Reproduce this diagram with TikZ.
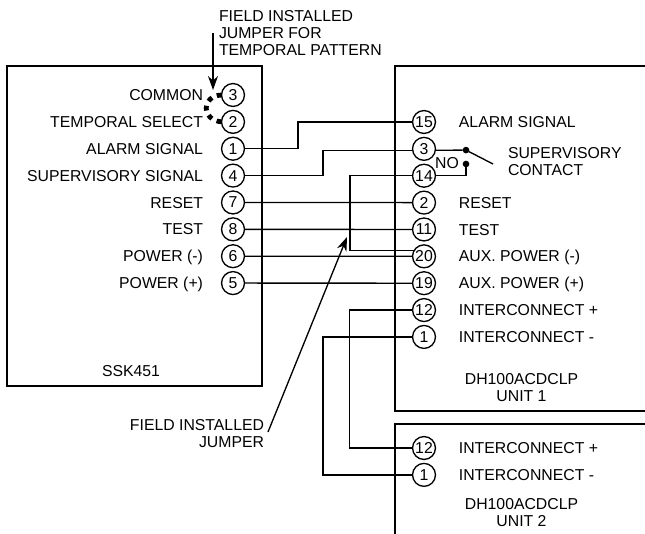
\documentclass[tikz,border=0pt]{standalone}
\usepackage{fontspec}
\setmainfont{Liberation Sans}
\usetikzlibrary{arrows.meta,positioning}
\tikzset{>={Stealth[length=10.5pt,width=7.5pt]}, % big arrow heads for the callouts
node distance=20.15pt, % row pitch of the terminals
every node/.style={font=\fontsize{11.85}{12.75}\selectfont, inner sep=0pt, outer sep=0pt},
pin/.style={draw, circle, minimum size=17.2pt}, % numbered terminal
signal/.style={text height=8.4pt, text depth=0pt},
contact/.style={fill, circle, minimum size=5pt},
jumper/.style={line width=3.6pt, dash pattern=on 3.6pt off 3.9pt},
}

\begin{document}
\begin{tikzpicture}[x=0.75pt, y=-0.75pt, line width=1pt]
\useasboundingbox (0,0) rectangle (645,534);
\fill[white] (0,0) rectangle (645,534);
% panel outlines
\draw[line width=1.1pt] (7,66) rectangle (262,386);
\draw[line width=1.1pt] (645,66) -- (395,66) -- (395,411) -- (645,411);
\draw[line width=1.1pt] (645,424) -- (395,424) -- (395,534);
% SSK451 terminals
\node[pin] at (233,95) (c3) {3};
\node[pin, below of=c3] (c2) {2};
\node[pin, below of=c2] (c1) {1};
\node[pin, below of=c1] (c4) {4};
\node[pin, below of=c4] (c7) {7};
\node[pin, below of=c7] (c8) {8};
\node[pin, below of=c8] (c6) {6};
\node[pin, below of=c6] (c5) {5};
\node[signal, left=13.9pt of c3] (lcommon) {COMMON};
\node[signal, left=13.9pt of c2] (ltemporal) {TEMPORAL SELECT};
\node[signal, left=13.9pt of c1] (lalarm) {ALARM SIGNAL};
\node[signal, left=13.9pt of c4] (lsuper) {SUPERVISORY SIGNAL};
\node[signal, left=13.9pt of c7] (lreset) {RESET};
\node[signal, left=13.9pt of c8] (ltest) {TEST};
\node[signal, left=13.9pt of c6] (lminus) {POWER (-)};
\node[signal, left=13.9pt of c5] (lplus) {POWER (+)};
\node at (131,371) (ssk) {SSK451};
% unit 1 terminals
\node[pin] at (424,122) (r15) {15};
\node[pin, below of=r15] (r3) {3};
\node[pin, below of=r3] (r14) {14};
\node[pin, below of=r14] (r2) {2};
\node[pin, below of=r2] (r11) {11};
\node[pin, below of=r11] (r20) {20};
\node[pin, below of=r20] (r19) {19};
\node[pin, below of=r19] (r12) {12};
\node[pin, below of=r12] (r1) {1};
\node[signal, right=17.6pt of r15] (ralarm) {ALARM SIGNAL};
\node[signal, right=17.6pt of r2] (rreset) {RESET};
\node[signal, right=17.6pt of r11] (rtest) {TEST};
\node[signal, right=17.6pt of r20] (rminus) {AUX. POWER (-)};
\node[signal, right=17.6pt of r19] (rplus) {AUX. POWER (+)};
\node[signal, right=17.6pt of r12] (rinplus) {INTERCONNECT +};
\node[signal, right=17.6pt of r1] (rinminus) {INTERCONNECT -};
\node[align=center] at (521.5,387.5) (unita) {DH100ACDCLP\\UNIT 1};
% unit 2 terminals
\node[pin] at (424,448) (s12) {12};
\node[pin, below of=s12] (s1) {1};
\node[signal, right=17.6pt of s12] (sinplus) {INTERCONNECT +};
\node[signal, right=17.6pt of s1] (sinminus) {INTERCONNECT -};
\node[align=center] at (521.5,513) (unitb) {DH100ACDCLP\\UNIT 2};
% supervisory contact
\node[contact] at (466,150.1) (common) {};
\node[contact] at (466,164) (no) {};
\coordinate (blade) at (493,164);
\node at (447,163.5) (nolabel) {NO};
\node[align=left, anchor=west] at (508,161.5) (supcontact) {SUPERVISORY\\CONTACT};
% wiring
\draw (c1.east) -- ++(53.5,0) |- (r15.west);
\draw (c4.east) -- ++(78.5,0) |- (r3.187);
\draw (c7) -- (r2);
\draw (c8) -- (r11);
\draw (c6) -- (r20);
\draw (c5) -- (r19);
\draw (r14.west) -- ++(-62.5,0) |- (r20.149);
\draw (r12.west) -- ++(-63,0) |- (s12.west);
\draw (r1.west) -- ++(-89.5,0) |- (s1.west);
\draw (r3.-7) -- (common) -- (blade);
\draw (no) |- (r14.east);
% callouts
\draw[jumper] (c3.west) .. controls (201,96) and (201,120) .. (c2.west);
\node[align=left, anchor=west] at (219,33.5) (ltemp) {FIELD INSTALLED\\JUMPER FOR\\TEMPORAL PATTERN};
\coordinate (tempstart) at (213,33);
\coordinate (temptip) at (213,90);
\draw[->] (tempstart) -- (temptip);
\node[align=right, anchor=east] at (264,433.5) (ljump) {FIELD INSTALLED\\JUMPER};
\coordinate (jumpstart) at (268,432);
\coordinate (jumptip) at (347,237);
\draw[->] (jumpstart) -- (jumptip);
\end{tikzpicture}
\end{document}
